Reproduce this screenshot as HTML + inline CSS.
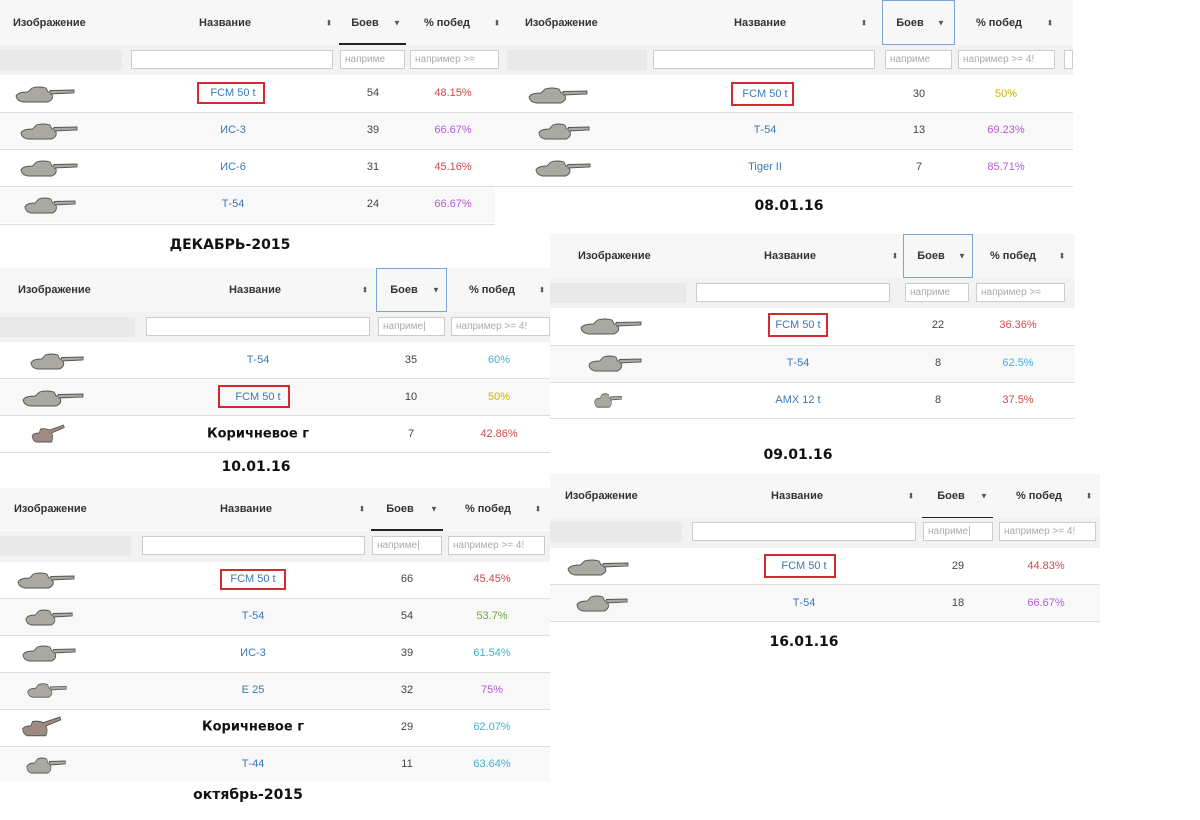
<!DOCTYPE html>
<html><head><meta charset="utf-8"><style>
body{margin:0;width:1200px;height:820px;background:#fff;position:relative;overflow:hidden;font-family:"Liberation Sans","DejaVu Sans",sans-serif}
div,span{position:absolute}
.t{transform:translate(-50%,-50%);white-space:nowrap;font-size:11px}
.l{transform:translateY(-50%);white-space:nowrap;font-size:11px}
.h{font-weight:bold;color:#333}
.n{color:#3a78b5}
.c{color:#444}
.r{color:#d0494a}.p{color:#b65ad8}.y{color:#c9b800}.b{color:#3fb1d6}.g{color:#6aaa3a}
.ic{font-size:8px;color:#555}
.cap{font-weight:bold;font-size:14px;color:#111;transform:translate(-50%,-50%);white-space:nowrap;font-family:"DejaVu Sans",sans-serif}
.br{font-weight:bold;font-size:13px;color:#111;font-family:"DejaVu Sans",sans-serif}
.hd{background:#f7f7f7}
.fr{background:#f2f2f2}
.gi{background:#e9e9e9;height:20px}
.wi{background:#fff;border:1px solid #ccc;height:19px;box-sizing:border-box}
.ph{color:#aaa;font-size:10px;left:4px;top:3px}
.ln{height:1px;background:#ddd}
.alt{background:#f8f8f8}
.box{border:2px solid #d42a2f;box-sizing:border-box}
.ul{height:2px;background:#222}
.sel{border:1px solid #7aa7d8;box-sizing:border-box}
svg.k{position:absolute}
</style></head><body>
<svg width="0" height="0" style="position:absolute"><defs>
<symbol id="tk" viewBox="0 0 60 20" preserveAspectRatio="none"><path d="M1 12 Q3 8 13 8 L17 4 Q24 2 31 4 L33 8 L35 8 L35 6.5 L59 6 L59 9 L35 10 L37 10.5 Q39 15 33 18 L8 18 Q2 17 1 12Z" fill="#a9a9a1" stroke="#555" stroke-width="0.9"/></symbol>
<symbol id="tb" viewBox="0 0 60 20" preserveAspectRatio="none"><path d="M3 12 Q5 9 13 9 L15 5 Q22 4 28 6 L48 1 L49 3.5 L31 9 Q34 13 31 18 L9 18 Q4 17 3 12Z" fill="#9e8a80" stroke="#555" stroke-width="0.9"/></symbol>
</defs></svg>

<!-- Block A -->
<div class="hd" style="left:0;top:0;width:505px;height:45px"></div>
<span class="l h" style="left:13px;top:23px">Изображение</span>
<span class="t h" style="left:225px;top:23px">Название</span>
<span class="t ic" style="left:329px;top:23px">⬍</span>
<span class="t h" style="left:365px;top:23px">Боев</span><span class="t ic" style="left:397px;top:23px">▼</span>
<div class="ul" style="left:339px;top:43px;width:67px"></div>
<span class="t h" style="left:447px;top:23px">% побед</span><span class="t ic" style="left:497px;top:23px">⬍</span>
<div class="fr" style="left:0;top:45px;width:520px;height:30px"></div>
<div class="gi" style="left:0;top:50px;width:122px"></div>
<div class="wi" style="left:131px;top:50px;width:202px"></div>
<div class="wi" style="left:340px;top:50px;width:65px"><span class="ph">наприме</span></div>
<div class="wi" style="left:410px;top:50px;width:89px"><span class="ph">например &gt;=</span></div>
<div class="gi" style="left:506px;top:50px;width:14px"></div>
<div class="ln" style="left:0;top:112px;width:510px"></div>
<div class="alt" style="left:0;top:113px;width:510px;height:36px"></div>
<div class="ln" style="left:0;top:149px;width:510px"></div>
<div class="ln" style="left:0;top:186px;width:505px"></div>
<div class="alt" style="left:0;top:187px;width:495px;height:36px"></div>
<div class="ln" style="left:0;top:224px;width:495px"></div>
<svg class="k" style="left:15px;top:84px" width="60" height="20"><use href="#tk"/></svg>
<svg class="k" style="left:20px;top:121px" width="58" height="20"><use href="#tk"/></svg>
<svg class="k" style="left:20px;top:158px" width="58" height="20"><use href="#tk"/></svg>
<svg class="k" style="left:24px;top:195px" width="52" height="20"><use href="#tk"/></svg>
<div class="box" style="left:197px;top:82px;width:68px;height:22px"></div>
<span class="t n" style="left:233px;top:93px">FCM 50 t</span><span class="t c" style="left:373px;top:93px">54</span><span class="t r" style="left:453px;top:93px">48.15%</span>
<span class="t n" style="left:233px;top:130px">ИС-3</span><span class="t c" style="left:373px;top:130px">39</span><span class="t p" style="left:453px;top:130px">66.67%</span>
<span class="t n" style="left:233px;top:167px">ИС-6</span><span class="t c" style="left:373px;top:167px">31</span><span class="t r" style="left:453px;top:167px">45.16%</span>
<span class="t n" style="left:233px;top:204px">Т-54</span><span class="t c" style="left:373px;top:204px">24</span><span class="t p" style="left:453px;top:204px">66.67%</span>
<span class="cap" style="left:230px;top:245px">ДЕКАБРЬ-2015</span>

<!-- Block B -->
<div class="hd" style="left:505px;top:0;width:568px;height:45px"></div>
<span class="l h" style="left:525px;top:23px">Изображение</span>
<span class="t h" style="left:760px;top:23px">Название</span><span class="t ic" style="left:864px;top:23px">⬍</span>
<div class="sel" style="left:882px;top:0;width:73px;height:45px"></div>
<span class="t h" style="left:910px;top:23px">Боев</span><span class="t ic" style="left:941px;top:23px">▼</span>
<span class="t h" style="left:999px;top:23px">% побед</span><span class="t ic" style="left:1050px;top:23px">⬍</span>
<div class="fr" style="left:505px;top:45px;width:568px;height:30px"></div>
<div class="gi" style="left:507px;top:50px;width:140px"></div>
<div class="wi" style="left:653px;top:50px;width:222px"></div>
<div class="wi" style="left:885px;top:50px;width:67px"><span class="ph">наприме</span></div>
<div class="wi" style="left:958px;top:50px;width:97px"><span class="ph">например &gt;= 4!</span></div>
<div class="wi" style="left:1064px;top:50px;width:9px"></div>
<div class="ln" style="left:505px;top:112px;width:568px"></div>
<div class="alt" style="left:505px;top:113px;width:568px;height:36px"></div>
<div class="ln" style="left:505px;top:149px;width:568px"></div>
<div class="ln" style="left:505px;top:186px;width:568px"></div>
<svg class="k" style="left:528px;top:85px" width="60" height="20"><use href="#tk"/></svg>
<svg class="k" style="left:538px;top:121px" width="52" height="20"><use href="#tk"/></svg>
<svg class="k" style="left:535px;top:158px" width="56" height="20"><use href="#tk"/></svg>
<div class="box" style="left:731px;top:82px;width:63px;height:24px"></div>
<span class="t n" style="left:765px;top:94px">FCM 50 t</span><span class="t c" style="left:919px;top:94px">30</span><span class="t y" style="left:1006px;top:94px">50%</span>
<span class="t n" style="left:765px;top:130px">Т-54</span><span class="t c" style="left:919px;top:130px">13</span><span class="t p" style="left:1006px;top:130px">69.23%</span>
<span class="t n" style="left:765px;top:167px">Tiger II</span><span class="t c" style="left:919px;top:167px">7</span><span class="t p" style="left:1006px;top:167px">85.71%</span>
<span class="cap" style="left:789px;top:206px">08.01.16</span>

<!-- Block D -->
<div class="hd" style="left:550px;top:234px;width:525px;height:44px"></div>
<span class="l h" style="left:578px;top:256px">Изображение</span>
<span class="t h" style="left:790px;top:256px">Название</span><span class="t ic" style="left:895px;top:256px">⬍</span>
<div class="sel" style="left:903px;top:234px;width:70px;height:44px"></div>
<span class="t h" style="left:931px;top:256px">Боев</span><span class="t ic" style="left:962px;top:256px">▼</span>
<span class="t h" style="left:1013px;top:256px">% побед</span><span class="t ic" style="left:1062px;top:256px">⬍</span>
<div class="fr" style="left:550px;top:278px;width:525px;height:30px"></div>
<div class="gi" style="left:550px;top:283px;width:136px"></div>
<div class="wi" style="left:696px;top:283px;width:194px"></div>
<div class="wi" style="left:905px;top:283px;width:64px"><span class="ph">наприме</span></div>
<div class="wi" style="left:976px;top:283px;width:89px"><span class="ph">например &gt;=</span></div>
<div class="ln" style="left:550px;top:345px;width:525px"></div>
<div class="alt" style="left:550px;top:346px;width:525px;height:36px"></div>
<div class="ln" style="left:550px;top:382px;width:525px"></div>
<div class="ln" style="left:550px;top:418px;width:525px"></div>
<svg class="k" style="left:580px;top:316px" width="62" height="20"><use href="#tk"/></svg>
<svg class="k" style="left:588px;top:353px" width="54" height="20"><use href="#tk"/></svg>
<svg class="k" style="left:594px;top:391px" width="28" height="18"><use href="#tk"/></svg>
<div class="box" style="left:768px;top:313px;width:60px;height:24px"></div>
<span class="t n" style="left:798px;top:325px">FCM 50 t</span><span class="t c" style="left:938px;top:325px">22</span><span class="t r" style="left:1018px;top:325px">36.36%</span>
<span class="t n" style="left:798px;top:363px">Т-54</span><span class="t c" style="left:938px;top:363px">8</span><span class="t b" style="left:1018px;top:363px">62.5%</span>
<span class="t n" style="left:798px;top:400px">AMX 12 t</span><span class="t c" style="left:938px;top:400px">8</span><span class="t r" style="left:1018px;top:400px">37.5%</span>
<span class="cap" style="left:798px;top:455px">09.01.16</span>

<!-- Block C -->
<div class="hd" style="left:0;top:268px;width:550px;height:44px"></div>
<span class="l h" style="left:18px;top:290px">Изображение</span>
<span class="t h" style="left:255px;top:290px">Название</span><span class="t ic" style="left:365px;top:290px">⬍</span>
<div class="sel" style="left:376px;top:268px;width:71px;height:44px"></div>
<span class="t h" style="left:404px;top:290px">Боев</span><span class="t ic" style="left:436px;top:290px">▼</span>
<span class="t h" style="left:492px;top:290px">% побед</span><span class="t ic" style="left:542px;top:290px">⬍</span>
<div class="fr" style="left:0;top:312px;width:550px;height:30px"></div>
<div class="gi" style="left:0;top:317px;width:135px"></div>
<div class="wi" style="left:146px;top:317px;width:224px"></div>
<div class="wi" style="left:378px;top:317px;width:67px"><span class="ph">наприме|</span></div>
<div class="wi" style="left:451px;top:317px;width:99px"><span class="ph">например &gt;= 4!</span></div>
<div class="ln" style="left:0;top:378px;width:550px"></div>
<div class="alt" style="left:0;top:379px;width:550px;height:36px"></div>
<div class="ln" style="left:0;top:415px;width:550px"></div>
<div class="ln" style="left:0;top:452px;width:550px"></div>
<svg class="k" style="left:30px;top:351px" width="54" height="20"><use href="#tk"/></svg>
<svg class="k" style="left:22px;top:388px" width="62" height="20"><use href="#tk"/></svg>
<svg class="k" style="left:30px;top:424px" width="42" height="20"><use href="#tb"/></svg>
<div class="box" style="left:218px;top:385px;width:72px;height:23px"></div>
<span class="t n" style="left:258px;top:360px">Т-54</span><span class="t c" style="left:411px;top:360px">35</span><span class="t b" style="left:499px;top:360px">60%</span>
<span class="t n" style="left:258px;top:397px">FCM 50 t</span><span class="t c" style="left:411px;top:397px">10</span><span class="t y" style="left:499px;top:397px">50%</span>
<span class="t br" style="left:258px;top:434px">Коричневое г</span><span class="t c" style="left:411px;top:434px">7</span><span class="t r" style="left:499px;top:434px">42.86%</span>
<span class="cap" style="left:256px;top:467px">10.01.16</span>

<!-- Block E -->
<div class="hd" style="left:0;top:488px;width:550px;height:42px"></div>
<span class="l h" style="left:14px;top:509px">Изображение</span>
<span class="t h" style="left:246px;top:509px">Название</span><span class="t ic" style="left:362px;top:509px">⬍</span>
<span class="t h" style="left:400px;top:509px">Боев</span><span class="t ic" style="left:434px;top:509px">▼</span>
<div class="ul" style="left:371px;top:529px;width:72px"></div>
<span class="t h" style="left:488px;top:509px">% побед</span><span class="t ic" style="left:538px;top:509px">⬍</span>
<div class="fr" style="left:0;top:531px;width:550px;height:31px"></div>
<div class="gi" style="left:0;top:536px;width:131px"></div>
<div class="wi" style="left:142px;top:536px;width:223px"></div>
<div class="wi" style="left:372px;top:536px;width:70px"><span class="ph">наприме|</span></div>
<div class="wi" style="left:448px;top:536px;width:97px"><span class="ph">например &gt;= 4!</span></div>
<div class="ln" style="left:0;top:598px;width:550px"></div>
<div class="alt" style="left:0;top:599px;width:550px;height:36px"></div>
<div class="ln" style="left:0;top:635px;width:550px"></div>
<div class="ln" style="left:0;top:672px;width:550px"></div>
<div class="alt" style="left:0;top:673px;width:550px;height:36px"></div>
<div class="ln" style="left:0;top:709px;width:550px"></div>
<div class="ln" style="left:0;top:746px;width:550px"></div>
<div class="alt" style="left:0;top:747px;width:550px;height:35px"></div>
<svg class="k" style="left:17px;top:570px" width="58" height="20"><use href="#tk"/></svg>
<svg class="k" style="left:25px;top:607px" width="48" height="20"><use href="#tk"/></svg>
<svg class="k" style="left:22px;top:643px" width="54" height="20"><use href="#tk"/></svg>
<svg class="k" style="left:27px;top:681px" width="40" height="18"><use href="#tk"/></svg>
<svg class="k" style="left:20px;top:716px" width="50" height="22"><use href="#tb"/></svg>
<svg class="k" style="left:26px;top:755px" width="40" height="20"><use href="#tk"/></svg>
<div class="box" style="left:220px;top:569px;width:66px;height:21px"></div>
<span class="t n" style="left:253px;top:579px">FCM 50 t</span><span class="t c" style="left:407px;top:579px">66</span><span class="t r" style="left:492px;top:579px">45.45%</span>
<span class="t n" style="left:253px;top:616px">Т-54</span><span class="t c" style="left:407px;top:616px">54</span><span class="t g" style="left:492px;top:616px">53.7%</span>
<span class="t n" style="left:253px;top:653px">ИС-3</span><span class="t c" style="left:407px;top:653px">39</span><span class="t b" style="left:492px;top:653px">61.54%</span>
<span class="t n" style="left:253px;top:690px">E 25</span><span class="t c" style="left:407px;top:690px">32</span><span class="t p" style="left:492px;top:690px">75%</span>
<span class="t br" style="left:253px;top:727px">Коричневое г</span><span class="t c" style="left:407px;top:727px">29</span><span class="t b" style="left:492px;top:727px">62.07%</span>
<span class="t n" style="left:253px;top:764px">Т-44</span><span class="t c" style="left:407px;top:764px">11</span><span class="t b" style="left:492px;top:764px">63.64%</span>
<span class="cap" style="left:248px;top:795px">октябрь-2015</span>

<!-- Block F -->
<div class="hd" style="left:550px;top:474px;width:550px;height:44px"></div>
<span class="l h" style="left:565px;top:496px">Изображение</span>
<span class="t h" style="left:797px;top:496px">Название</span><span class="t ic" style="left:911px;top:496px">⬍</span>
<span class="t h" style="left:951px;top:496px">Боев</span><span class="t ic" style="left:984px;top:496px">▼</span>
<div class="ul" style="left:922px;top:517px;width:71px"></div>
<span class="t h" style="left:1039px;top:496px">% побед</span><span class="t ic" style="left:1089px;top:496px">⬍</span>
<div class="fr" style="left:550px;top:518px;width:550px;height:30px"></div>
<div class="gi" style="left:550px;top:522px;width:132px"></div>
<div class="wi" style="left:692px;top:522px;width:224px"></div>
<div class="wi" style="left:923px;top:522px;width:70px"><span class="ph">наприме|</span></div>
<div class="wi" style="left:999px;top:522px;width:97px"><span class="ph">например &gt;= 4!</span></div>
<div class="ln" style="left:550px;top:584px;width:550px"></div>
<div class="alt" style="left:550px;top:585px;width:550px;height:36px"></div>
<div class="ln" style="left:550px;top:621px;width:550px"></div>
<svg class="k" style="left:567px;top:557px" width="62" height="20"><use href="#tk"/></svg>
<svg class="k" style="left:576px;top:593px" width="52" height="20"><use href="#tk"/></svg>
<div class="box" style="left:764px;top:554px;width:72px;height:24px"></div>
<span class="t n" style="left:804px;top:566px">FCM 50 t</span><span class="t c" style="left:958px;top:566px">29</span><span class="t r" style="left:1046px;top:566px">44.83%</span>
<span class="t n" style="left:804px;top:603px">Т-54</span><span class="t c" style="left:958px;top:603px">18</span><span class="t p" style="left:1046px;top:603px">66.67%</span>
<span class="cap" style="left:804px;top:642px">16.01.16</span>
</body></html>
